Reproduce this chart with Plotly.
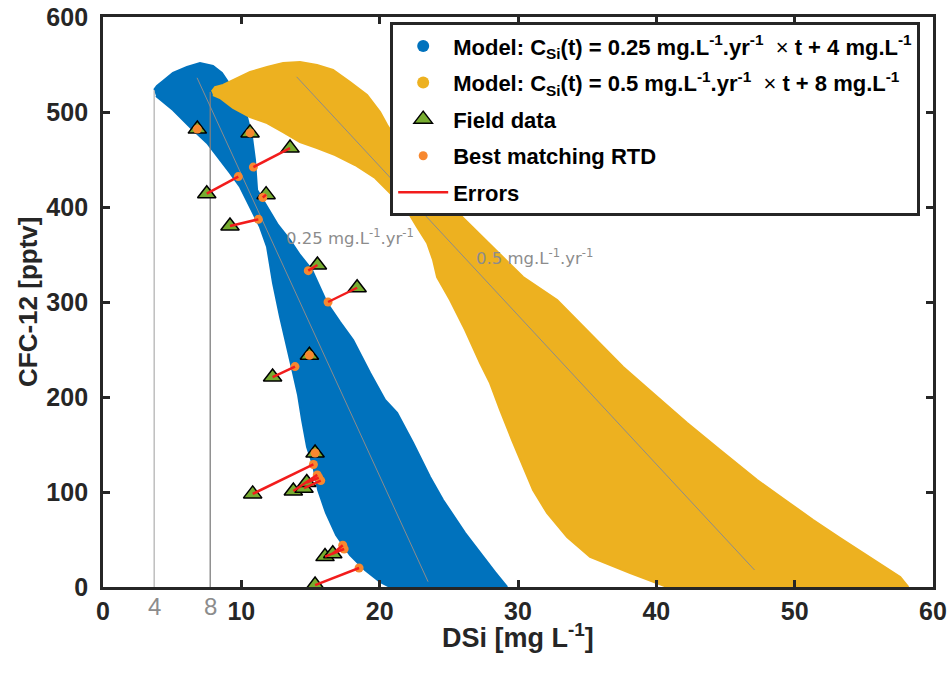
import plotly.graph_objects as go

# ---------------- data ----------------
# Model envelope, 0.25 mg/L/yr (outline of the dense scatter cloud), DSi [mg/L], CFC-12 [pptv]
blue_x = [3.69, 3.90, 4.34, 5.06, 6.07, 7.01, 7.95, 8.60, 9.04, 9.62, 10.12, 10.41, 10.77, 10.99,
          11.14, 11.57, 12.07, 12.65, 13.52, 14.24, 15.11, 15.68, 16.20, 17.14, 18.08, 19.31,
          20.39, 21.26, 22.42, 23.64, 24.58, 26.18, 27.26, 28.34, 29.21,
          20.75, 20.03, 18.94, 17.86, 16.85, 16.12, 15.55, 15.18, 14.75, 14.39, 14.10, 13.74,
          13.30, 12.80, 12.29, 11.86, 11.35, 10.63, 9.91, 9.18, 8.46, 7.52, 6.29, 5.06, 3.83]
blue_y = [523.2, 527.4, 532.6, 541.1, 547.4, 551.6, 548.4, 541.1, 531.6, 517.9, 507.4, 494.7, 473.7, 449.5,
          417.9, 407.4, 394.7, 381.1, 365.3, 349.5, 333.7, 314.7, 298.9, 278.9, 260.0, 225.3,
          196.8, 183.2, 151.6, 115.8, 91.6, 56.8, 35.8, 15.8, 0.0,
          0.0, 5.3, 17.9, 33.7, 54.7, 77.9, 102.1, 128.4, 147.4, 175.8, 202.1, 225.3,
          252.6, 284.2, 320.0, 357.9, 378.9, 400.0, 421.1, 435.8, 449.5, 467.4, 484.2, 502.1, 516.8]

# Model envelope, 0.5 mg/L/yr
yel_x = [7.86, 8.10, 8.68, 9.40, 10.63, 11.86, 13.02, 14.24, 15.47, 16.63, 17.86, 19.09, 20.03, 20.54,
         21.11, 22.92, 24.73, 25.60, 26.90, 28.71, 30.37, 32.83, 35.21, 37.60, 39.91, 42.23, 44.61,
         47.29, 49.31, 51.34, 53.29, 54.95, 56.54, 57.63, 58.21,
         40.78, 38.11, 35.21, 33.55, 32.10, 31.09, 30.37, 29.57, 28.71, 27.98, 27.26, 26.18, 25.09,
         24.15, 23.86, 23.43, 22.70, 22.05, 20.90, 19.67, 18.22, 16.78, 15.47, 14.24, 13.02, 11.86,
         10.63, 9.40, 8.46, 7.95]
yel_y = [521.4, 526.3, 528.4, 533.7, 542.1, 547.4, 551.6, 552.6, 549.5, 544.2, 531.6, 517.9, 500.0, 486.3,
         473.7, 444.2, 412.6, 394.7, 375.8, 349.5, 326.3, 302.1, 267.4, 231.6, 202.1, 172.6, 144.2,
         112.6, 91.6, 70.5, 51.6, 35.8, 20.0, 10.5, 0.0,
         0.0, 14.7, 31.6, 52.6, 77.9, 102.1, 126.3, 154.7, 186.3, 214.7, 235.8, 270.5, 302.1,
         326.3, 344.2, 362.1, 378.9, 394.7, 412.6, 430.5, 444.2, 454.7, 462.1, 468.4, 478.9, 488.4,
         494.7, 504.2, 514.7, 517.9]

# Field data (triangles) and best matching RTD (orange dots)
field_x = [6.82, 10.63, 13.52, 7.50, 11.79, 9.18, 15.50, 18.37, 14.92, 12.26, 15.33, 10.82,
           13.76, 14.53, 14.73, 16.05, 16.61, 15.33]
field_y = [482, 478, 462, 414, 413, 380, 339, 315, 244, 221, 141, 98,
           101, 104, 110, 32, 35, 2]
best_x = [6.82, 10.63, 10.87, 9.78, 11.55, 11.23, 14.84, 16.27, 14.92, 13.88, 15.33, 15.21,
          15.49, 15.74, 15.60, 17.43, 17.33, 18.51]
best_y = [482, 478, 442, 432, 410, 387, 333, 300, 244, 232, 141, 129,
          118, 112, 115, 40, 44, 20]

# Reference lines
init_conc = [3.7, 7.75]          # initial concentration guides ("4", "8")
init_top = [523, 521]
init_labels = ["4", "8"]
trend1_x = [6.8, 23.5]; trend1_y = [536, 5.6]
trend2_x = [14.0, 47.1]; trend2_y = [537, 17.9]
rate_labels = ["0.25 mg.L<sup>-1</sup>.yr<sup>-1</sup>", "0.5 mg.L<sup>-1</sup>.yr<sup>-1</sup>"]
rate_label_x = [13.1, 26.8]
rate_label_y = [368, 347]

x_ticks = [0, 10, 20, 30, 40, 50, 60]
y_ticks = [0, 100, 200, 300, 400, 500, 600]

X_MUL = "<span style='font-weight:normal'>×</span>"
legend_names = [
    f"<b>Model: C<sub>Si</sub>(t) = 0.25 mg.L<sup>-1</sup>.yr<sup>-1</sup></b>  {X_MUL} <b>t + 4 mg.L<sup>-1</sup></b>",
    f"<b>Model: C<sub>Si</sub>(t) = 0.5 mg.L<sup>-1</sup>.yr<sup>-1</sup></b>  {X_MUL} <b>t + 8 mg.L<sup>-1</sup></b>",
    "<b>Field data</b>", "<b>Best matching RTD</b>", "<b>Errors</b>"]

BLUE = "#0072BD"; YEL = "#EDB120"; GREEN = "#77AC30"; ORANGE = "#F7882F"; RED = "#F21C1C"
DARK = "#262626"

fig = go.Figure()

# envelopes
fig.add_trace(go.Scatter(x=blue_x, y=blue_y, fill="toself", fillcolor=BLUE, mode="lines",
                         line=dict(color=BLUE, width=2), showlegend=False, hoverinfo="skip"))
fig.add_trace(go.Scatter(x=yel_x, y=yel_y, fill="toself", fillcolor=YEL, mode="lines",
                         line=dict(color=YEL, width=2), showlegend=False, hoverinfo="skip"))

# guide lines
for xv, top, col in zip(init_conc, init_top, ["#B4B4B4", "#7F7F7F"]):
    fig.add_trace(go.Scatter(x=[xv, xv], y=[0, top], mode="lines",
                             line=dict(color=col, width=1.3), showlegend=False, hoverinfo="skip"))
fig.add_trace(go.Scatter(x=trend1_x, y=trend1_y, mode="lines", line=dict(color="#8C8C8C", width=1),
                         showlegend=False, hoverinfo="skip"))
fig.add_trace(go.Scatter(x=trend2_x, y=trend2_y, mode="lines", line=dict(color="#8C8C8C", width=1),
                         showlegend=False, hoverinfo="skip"))

# legend proxies for the model clouds
fig.add_trace(go.Scatter(x=[None], y=[None], mode="markers", name=legend_names[0], legendgroup="a",
                         marker=dict(color=BLUE, size=12)))
fig.add_trace(go.Scatter(x=[None], y=[None], mode="markers", name=legend_names[1], legendgroup="b",
                         marker=dict(color=YEL, size=12)))

# field data
fig.add_trace(go.Scatter(x=field_x, y=field_y, mode="markers", name=legend_names[2], legendgroup="c",
                         marker=dict(symbol="triangle-up", color=GREEN, size=16,
                                     line=dict(color="black", width=1.5))))
# best matching
fig.add_trace(go.Scatter(x=best_x, y=best_y, mode="markers", name=legend_names[3], legendgroup="d",
                         marker=dict(color=ORANGE, size=9)))
# errors
ex, ey = [], []
for a, b, c, d in zip(field_x, field_y, best_x, best_y):
    ex += [a, c, None]; ey += [b, d, None]
fig.add_trace(go.Scatter(x=ex, y=ey, mode="lines", name=legend_names[4], legendgroup="e",
                         line=dict(color=RED, width=2.5)))

annotations = []
for t, xv, yv in zip(rate_labels, rate_label_x, rate_label_y):
    annotations.append(dict(x=xv, y=yv, text=t, showarrow=False, xanchor="left", yanchor="middle",
                            font=dict(family="DejaVu Sans", size=16.5, color="#8C8C8C")))
for t, xv in zip(init_labels, init_conc):
    annotations.append(dict(x=xv, y=0, yref="y", text=t, showarrow=False, xanchor="center",
                            yanchor="top", yshift=-4,
                            font=dict(family="Liberation Sans", size=24, color="#8C8C8C")))
# axis titles
annotations.append(dict(x=0.5, y=0, xref="paper", yref="paper", yshift=-49, xanchor="center",
                        yanchor="middle", showarrow=False, text="<b>DSi [mg L<sup>-1</sup>]</b>",
                        font=dict(family="Liberation Sans", size=27, color=DARK)))
annotations.append(dict(x=0, y=0.5, xref="paper", yref="paper", xshift=-75, xanchor="center",
                        yanchor="middle", showarrow=False, textangle=-90, text="<b>CFC-12 [pptv]</b>",
                        font=dict(family="Liberation Sans", size=26, color=DARK)))

axis_common = dict(showline=True, linewidth=3, linecolor=DARK, mirror="ticks", ticks="inside",
                   ticklen=7, tickwidth=2.5, tickcolor=DARK, showgrid=False, zeroline=False,
                   automargin=False,
                   tickfont=dict(family="Liberation Sans", size=25, color=DARK))

fig.update_layout(
    width=949, height=681,
    margin=dict(l=103, r=16, t=17, b=94),
    plot_bgcolor="white", paper_bgcolor="white",
    font=dict(family="Liberation Sans", color=DARK),
    xaxis=dict(range=[0, 60], tickvals=x_ticks, ticktext=[f"<b>{v}</b>" for v in x_ticks],
               **axis_common),
    yaxis=dict(range=[0, 600], tickvals=y_ticks,
               ticktext=[f"<b>{v}</b>\u00a0" for v in y_ticks], **axis_common),
    legend=dict(x=0.346, y=0.991, xanchor="left", yanchor="top", bgcolor="white",
                bordercolor=DARK, borderwidth=3, tracegroupgap=5,
                font=dict(family="Liberation Sans", size=22, color="black"),
                itemwidth=50),
    annotations=annotations,
)

fig.write_html("out.html", config={"displayModeBar": False},
               post_script="document.body.style.margin='0';document.body.style.overflow='hidden';")
